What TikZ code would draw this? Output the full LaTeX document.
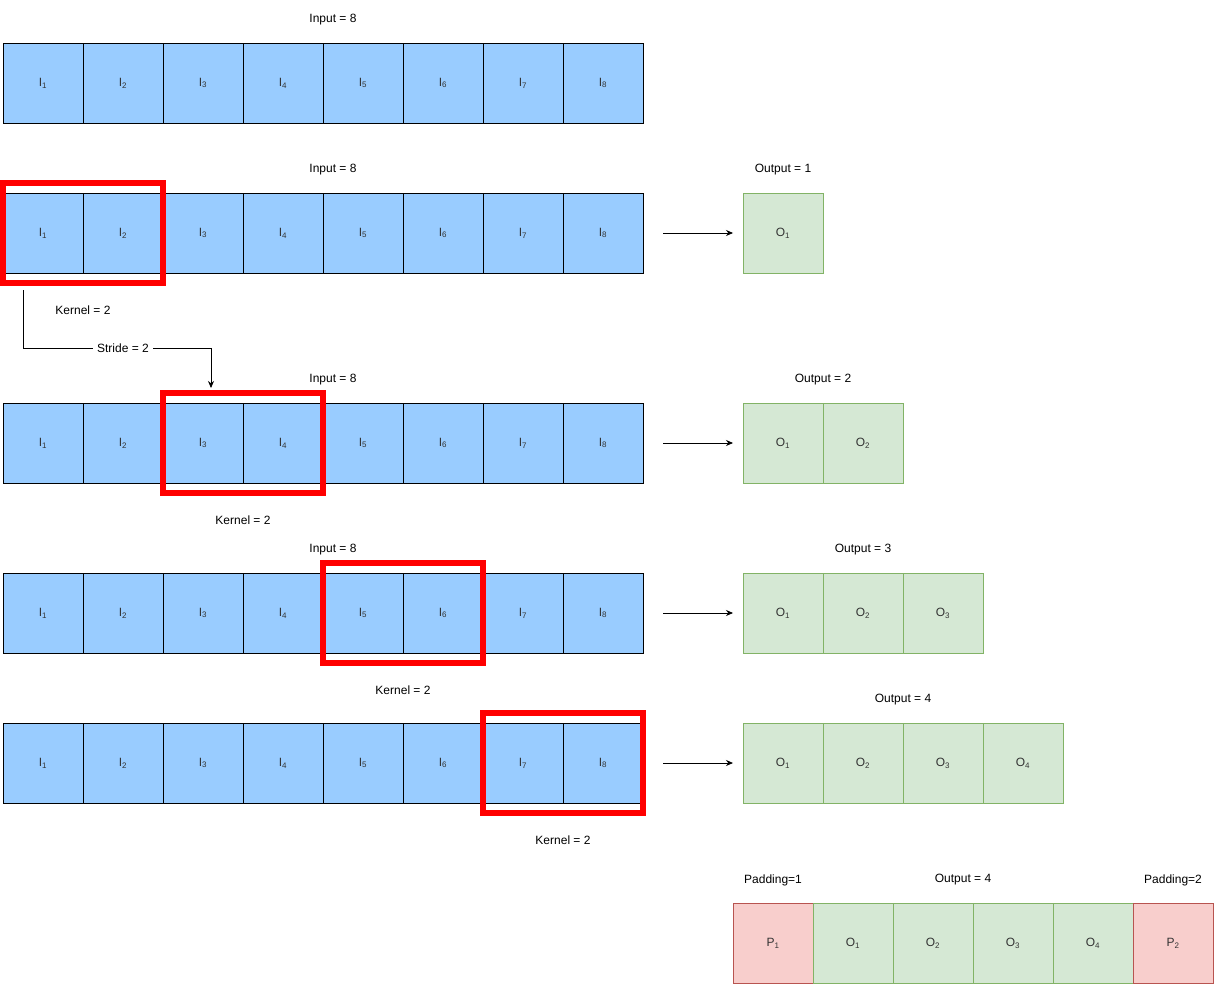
\documentclass[tikz,border=0pt]{standalone}
\usepackage{fontspec}
\setmainfont{Liberation Sans}
\usetikzlibrary{arrows.meta}

\definecolor{inblue}{HTML}{99CCFF}
\definecolor{outgreen}{HTML}{D5E8D4}
\definecolor{outline}{HTML}{82B366}
\definecolor{padred}{HTML}{F8CECC}
\definecolor{padline}{HTML}{B85450}
\definecolor{txtgray}{HTML}{333333}

\tikzset{
  cell/.style={minimum size=80pt, inner sep=0pt, outer sep=0pt, anchor=north west,
    line width=0.8pt, font=\fontsize{12}{14}\selectfont, text=txtgray},
  incell/.style={cell, draw=black, fill=inblue},
  outcell/.style={cell, draw=outline, fill=outgreen},
  padcell/.style={cell, draw=padline, fill=padred},
  kbox/.style={draw=red, line width=6pt, minimum width=160pt, minimum height=100pt,
    inner sep=0pt, outer sep=0pt, anchor=north west},
  lbl/.style={font=\fontsize{12}{14}\selectfont, inner sep=1pt, yshift=-2pt},
  flow/.style={-{Stealth[length=7pt,width=6pt]}, line width=0.8pt},
}

\begin{document}
\begin{tikzpicture}[x=1pt,y=-1pt]
\useasboundingbox (0,0) rectangle (1214,984);

% input rows
\foreach \r/\y in {0/43,1/193,2/403,3/573,4/723}{
  \foreach \i in {1,...,8}{
    \node[incell] (in-\r-\i) at ({3+80*(\i-1)},\y) {I\textsubscript{\i}};
  }
}
\node[lbl] (inlab0) at (333,18) {Input = 8};
\node[lbl] (inlab1) at (333,168) {Input = 8};
\node[lbl] (inlab2) at (333,378) {Input = 8};
\node[lbl] (inlab3) at (333,548) {Input = 8};

% kernel windows
\node[kbox] (k1) at (3,183) {};
\node[kbox] (k2) at (163,393) {};
\node[kbox] (k3) at (323,563) {};
\node[kbox] (k4) at (483,713) {};
\node[lbl] (klab1) at (83,308) {Kernel = 2};
\node[lbl] (klab2) at (243,518) {Kernel = 2};
\node[lbl] (klab3) at (403,688) {Kernel = 2};
\node[lbl] (klab4) at (563,838) {Kernel = 2};

% outputs
\foreach \r/\y/\n in {1/193/1,2/403/2,3/573/3,4/723/4}{
  \foreach \j in {1,...,\n}{
    \node[outcell] (out-\r-\j) at ({743+80*(\j-1)},\y) {O\textsubscript{\j}};
  }
  \coordinate (from-\r) at (663,{\y+40});
  \draw[flow, shorten >=10pt] (from-\r) -- (out-\r-1.west);
}
\node[lbl] (olab1) at (783,168) {Output = 1};
\node[lbl] (olab2) at (823,378) {Output = 2};
\node[lbl] (olab3) at (863,548) {Output = 3};
\node[lbl] (olab4) at (903,698) {Output = 4};

% stride
\coordinate (s0) at (23,290);
\coordinate (s1) at (211,388);
\node[lbl, inner sep=4pt, yshift=2pt] (stride) at (123,348) {Stride = 2};
\draw[line width=0.8pt] (s0) |- (stride.west);
\draw[flow] (stride.east) -| (s1);

% padded output
\node[padcell] (p1) at (733,903) {P\textsubscript{1}};
\foreach \j in {1,...,4}{
  \node[outcell] (po-\j) at ({813+80*(\j-1)},903) {O\textsubscript{\j}};
}
\node[padcell] (p2) at (1133,903) {P\textsubscript{2}};
\node[lbl] (plab1) at (773,878) {Padding=1};
\node[lbl] (plab0) at (963,878) {Output = 4};
\node[lbl] (plab2) at (1173,878) {Padding=2};
\end{tikzpicture}
\end{document}
